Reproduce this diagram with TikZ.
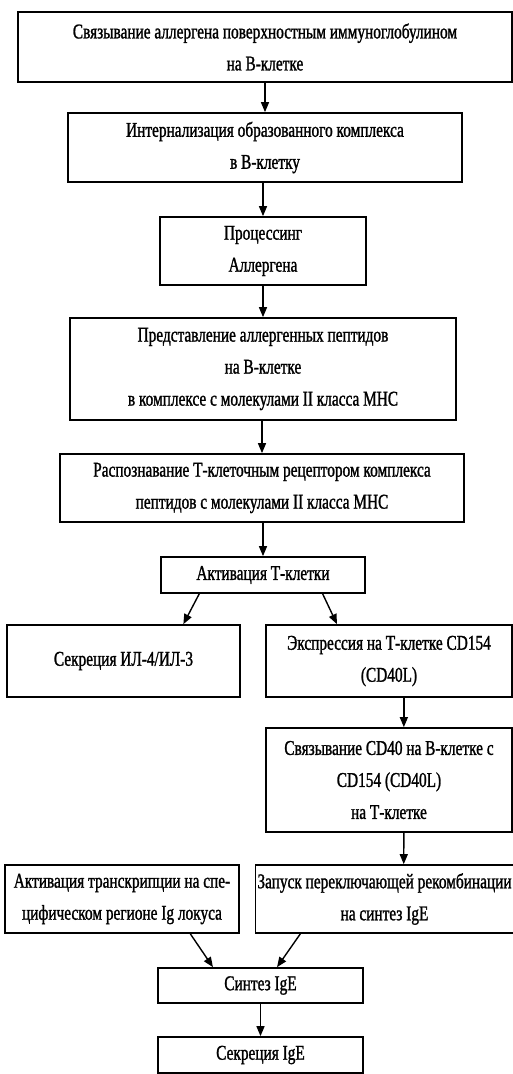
\documentclass[tikz,border=0pt]{standalone}
\usepackage{fontspec}
\setmainfont[FakeStretch=0.73,FakeBold=1.2]{Liberation Serif}
\usetikzlibrary{arrows.meta,calc}
\begin{document}
\begin{tikzpicture}[x=1pt,y=-1pt,
  box/.style={draw=black,line width=1.7pt,align=center,inner sep=2pt,
    font=\fontsize{21}{32}\selectfont},
  arr/.style={line width=1.4pt,-{Triangle[length=10pt,width=8pt]}}]
\useasboundingbox[fill=white] (0,0) rectangle (513,1074);
\node[box,minimum width=494,minimum height=70] (b1) at (265,47) {Связывание аллергена поверхностным иммуноглобулином\\на В-клетке};
\node[box,minimum width=394,minimum height=69] (b2) at (265,147.5) {Интернализация образованного комплекса\\в В-клетку};
\node[box,minimum width=206,minimum height=68] (b3) at (263,251) {Процессинг\\Аллергена};
\node[box,minimum width=386,minimum height=102] (b4) at (263,369) {Представление аллергенных пептидов\\на В-клетке\\в комплексе с молекулами II класса МНС};
\node[box,minimum width=404,minimum height=68] (b5) at (262,488) {Распознавание Т-клеточным рецептором комплекса\\пептидов с молекулами II класса МНС};
\node[box,minimum width=204,minimum height=36] (b6) at (263,575) {Активация Т-клетки};
\node[box,minimum width=233,minimum height=72] (b7) at (123.5,661) {Секреция ИЛ-4/ИЛ-3};
\node[box,minimum width=246,minimum height=72] (b8) at (389,661) {Экспрессия на Т-клетке CD154\\(CD40L)};
\node[box,minimum width=246,minimum height=104] (b9) at (389,780) {Связывание CD40 на В-клетке с\\CD154 (CD40L)\\на Т-клетке};
\node[box,minimum width=234,minimum height=68] (b10) at (122,899) {Активация транскрипции на спе-\\цифическом регионе Ig локуса};
\node[box,minimum width=255,minimum height=68] (b11) at (384.5,899) {Запуск переключающей рекомбинации\\на синтез IgE};
\node[box,minimum width=205,minimum height=35] (b12) at (260.5,985.5) {Синтез IgE};
\node[box,minimum width=205,minimum height=36] (b13) at (260.5,1055) {Секреция IgE};
\draw[arr] (b1.south -| b2.north) -- (b2.north);
\draw[arr] (b2.south -| b3.north) -- (b3.north);
\draw[arr] (b3.south) -- (b4.north);
\draw[arr] (b4.south -| b5.north) -- (b5.north);
\draw[arr] (b5.south -| b6.north) -- (b6.north);
\draw[arr] ($(b6.south west)!0.19!(b6.south east)$) -- ($(b7.north west)!0.755!(b7.north east)$);
\draw[arr] ($(b6.south west)!0.79!(b6.south east)$) -- ($(b8.north west)!0.29!(b8.north east)$);
\draw[arr] ($(b8.south west)!0.56!(b8.south east)$) -- ($(b9.north west)!0.56!(b9.north east)$);
\draw[arr] ($(b9.south west)!0.56!(b9.south east)$) -- ($(b11.north west)!0.574!(b11.north east)$);
\draw[arr] ($(b10.south west)!0.79!(b10.south east)$) -- ($(b12.north west)!0.27!(b12.north east)$);
\draw[arr] ($(b11.south west)!0.176!(b11.south east)$) -- ($(b12.north west)!0.58!(b12.north east)$);
\draw[arr] (b12.south) -- (b13.north);
\end{tikzpicture}
\end{document}
